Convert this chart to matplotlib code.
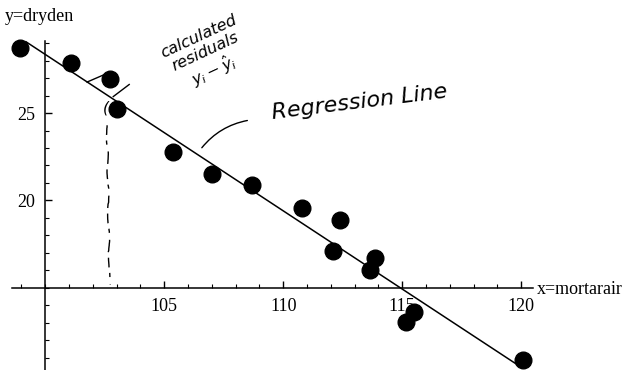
import numpy as np
import matplotlib
matplotlib.use('Agg')
import matplotlib.pyplot as plt
from matplotlib.ticker import FixedLocator

# mortar air content vs dry density
mortarair = [98.95, 101.09, 102.73, 103.01, 105.39, 107.00, 108.70, 110.79,
             112.39, 112.09, 113.84, 113.66, 115.48, 115.17, 120.07]
dryden = [28.71, 27.87, 26.93, 25.21, 22.75, 21.50, 20.89, 19.55,
          18.89, 17.13, 16.70, 16.03, 13.65, 13.07, 10.89]
x_major = [105, 110, 115, 120]
y_major = [20, 25]
line_span = (99.2, 119.8)

serif = 'Liberation Serif'
hand = dict(family='DejaVu Sans', style='italic', color='black')

fig = plt.figure(figsize=(6.42, 3.70), dpi=100)
ax = fig.add_axes([0, 0, 1, 1])
ax.set_xlim(98.1, 125.08)
ax.set_ylim(10.31, 31.46)

# axes crossing at (100, 15), Mathematica style
for s in ['top', 'right']:
    ax.spines[s].set_visible(False)
ax.spines['left'].set_position(('data', 100))
ax.spines['bottom'].set_position(('data', 15))
ax.spines['left'].set_bounds(10.3, 29.1)
ax.spines['bottom'].set_bounds(98.6, 120.5)
for s in ['left', 'bottom']:
    ax.spines[s].set_linewidth(1.1)

ax.xaxis.set_major_locator(FixedLocator(x_major))
ax.xaxis.set_minor_locator(FixedLocator(range(99, 121)))
ax.yaxis.set_major_locator(FixedLocator(y_major))
ax.yaxis.set_minor_locator(FixedLocator(range(11, 30)))
ax.tick_params(which='major', direction='in', length=5, width=1, pad=7)
ax.tick_params(which='minor', direction='in', length=3, width=0.8)
for lab in ax.get_xticklabels() + ax.get_yticklabels():
    lab.set_fontfamily(serif)
    lab.set_fontsize(13)

# data and least-squares line
ax.plot(mortarair, dryden, 'o', color='black', ms=12, zorder=3)
b, a = np.polyfit(mortarair, dryden, 1)
lx = np.array(line_span)
ax.plot(lx, a + b * lx, color='black', lw=1.1, zorder=2)

ax.text(0.008, 0.955, 'y=dryden', transform=ax.transAxes, fontfamily=serif,
        fontsize=13, ha='left', va='center')
ax.text(0.836, 0.218, 'x=mortarair', transform=ax.transAxes, fontfamily=serif,
        fontsize=13, ha='left', va='center')

# hand-drawn notes
ax.text(106.8, 28.3, 'calculated\nresiduals\n$y_i - \\hat{y}_i$', rotation=25,
        ha='center', va='center', multialignment='center', fontsize=11.5,
        linespacing=1.15, **hand)
ax.plot([102.86, 103.53], [25.94, 26.63], color='black', lw=1)
ax.plot([101.76, 102.44], [26.77, 27.17], color='black', lw=1)
ax.text(102.55, 25.3, '(', fontsize=11, ha='center', va='center', **hand)
resid, = ax.plot([102.6, 102.7], [24.3, 15.2], color='black', lw=1,
                 dashes=(7, 4, 3, 5, 9, 4))
resid.set_sketch_params(scale=0.8, length=60, randomness=5)

ax.text(113.2, 25.6, 'Regression Line', rotation=7, ha='center',
        va='center', fontsize=16, **hand)
ax.annotate('', xy=(108.61, 24.6), xytext=(106.51, 22.89),
            arrowprops=dict(arrowstyle='-', color='black', lw=1,
                            connectionstyle='arc3,rad=-0.2'))

fig.savefig('out.png', dpi=100)
